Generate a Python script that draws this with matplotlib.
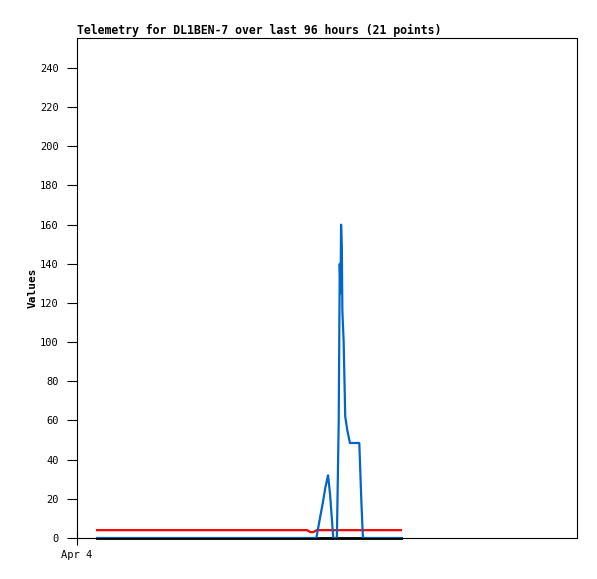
import matplotlib
matplotlib.use('Agg')
import matplotlib.pyplot as plt
import numpy as np

# hours since Apr 4 00:00
blue_t = [3.85, 45.96, 46.5, 47.2, 47.7, 48.2, 48.6, 49.2, 49.9, 50.25, 50.45, 50.6, 50.7, 50.85, 50.95, 51.2, 51.5, 51.9, 52.4, 54.2, 54.6, 54.9, 62.2]
blue_v = [0, 0, 8, 18, 26, 32, 22, 0, 0, 60, 140, 125, 160, 148, 116, 100, 62, 55, 48.5, 48.5, 18.5, 0, 0]

red_t = [3.85, 44.2, 44.8, 45.4, 46.0, 62.2]
red_v = [4, 4, 3, 3, 4, 4]

black_t = [3.85, 62.2]
black_v = [0, 0]

yticks = list(range(0, 241, 20))

fig = plt.figure(figsize=(5.97, 5.79), dpi=100)
ax = fig.add_axes([77/597, 41/579, 500/597, 500/579])

ax.plot(black_t, black_v, color='black', lw=2, clip_on=False)
ax.plot(red_t, red_v, color='#ff0000', lw=1.6)
ax.plot(blue_t, blue_v, color='#0066cc', lw=1.6)

ax.set_xlim(0, 96)
ax.set_ylim(0, 255.3)
ax.set_yticks(yticks)
ax.set_yticklabels([str(v) for v in yticks], family='DejaVu Sans Mono', fontsize=7.5)
ax.set_xticks([0])
ax.set_xticklabels(['Apr 4'], family='DejaVu Sans Mono', fontsize=7.5)
ax.tick_params(axis='y', direction='out', length=7, width=0.8, pad=6)
ax.tick_params(axis='x', direction='inout', length=10, width=0.8, pad=4)
for s in ax.spines.values():
    s.set_linewidth(0.8)

ax.set_ylabel('Values', family='DejaVu Sans Mono', fontweight='bold', fontsize=8, labelpad=2)
ax.set_title('Telemetry for DL1BEN-7 over last 96 hours (21 points)', loc='left',
             family='DejaVu Sans Mono', fontweight='bold', fontsize=8.3, pad=3)

fig.savefig('out.png', dpi=100)
